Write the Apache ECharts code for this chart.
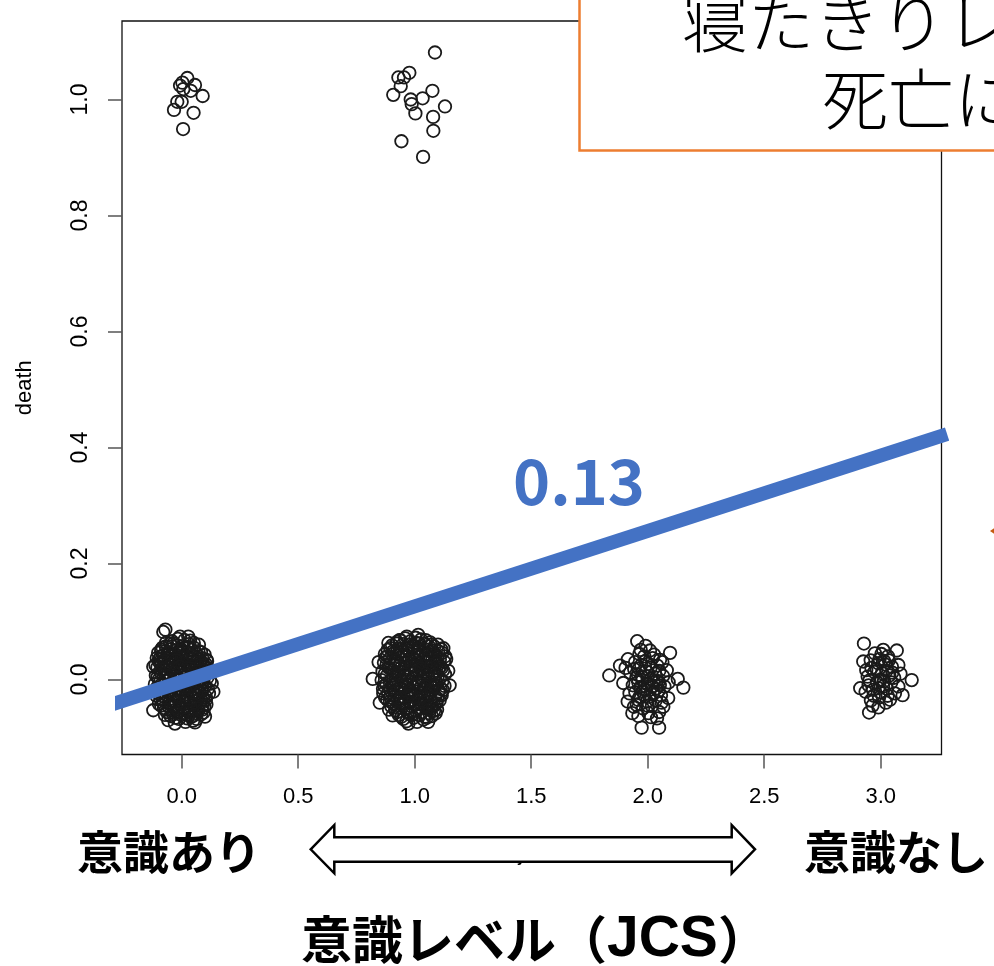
<!DOCTYPE html>
<html>
<head>
<meta charset="utf-8">
<script src="https://cdn.jsdelivr.net/npm/echarts@6/dist/echarts.min.js"></script>
<style>
html, body { margin: 0; padding: 0; background: #fff; }
#chart { width: 994px; height: 966px; }
</style>
</head>
<body>
<div id="chart"></div>
<script>
// Tick positions on both axes
const xTicks = [0, 0.5, 1, 1.5, 2, 2.5, 3];
const yTicks = [0, 0.2, 0.4, 0.6, 0.8, 1.0];

// Jittered observations [JCS, death], death = 1
const deadJcs0 = [
  [0.024,1.037],[0.003,1.029],[-0.007,1.024],[0.057,1.025],[0.007,1.018],[0.039,1.015],
  [0.090,1.006],[-0.019,0.996],[0.000,0.996],[-0.033,0.982],[0.051,0.977],[0.006,0.949]
];
const deadJcs1 = [
  [1.087,1.081],[0.977,1.046],[0.954,1.038],[0.930,1.038],[0.940,1.023],[0.908,1.008],
  [1.076,1.015],[0.983,1.000],[1.034,1.002],[0.987,0.992],[1.130,0.988],[1.003,0.976],
  [1.079,0.970],[1.080,0.946],[0.943,0.928],[1.036,0.901]
];

// Jittered observations [JCS, death], death = 0
const aliveJcs0 = [
  [-0.079,0.082],[-0.070,0.086],[-0.122,0.022],[-0.122,-0.053],[-0.029,-0.076],[0.057,-0.074],
  [0.100,-0.064],[0.136,-0.021],[0.129,-0.007],[0.107,0.034],[0.028,0.074],[-0.007,0.074],
  [-0.050,0.062],[-0.107,0.037],
  [-0.041,0.066],[0.012,0.068],[0.052,0.063],
  [-0.068,0.057],[-0.019,0.059],[0.027,0.056],[0.074,0.060],
  [-0.088,0.049],[-0.047,0.052],[0.004,0.048],[0.043,0.051],[0.083,0.047],
  [-0.079,0.042],[-0.028,0.044],[0.019,0.041],[0.061,0.045],[0.098,0.043],
  [-0.097,0.035],[-0.058,0.037],[-0.012,0.034],[0.033,0.038],[0.071,0.035],[0.109,0.032],
  [-0.086,0.028],[-0.036,0.030],[0.009,0.027],[0.048,0.031],[0.091,0.028],
  [-0.104,0.021],[-0.064,0.023],[-0.021,0.020],[0.024,0.024],[0.066,0.021],[0.112,0.019],
  [-0.093,0.014],[-0.046,0.016],[-0.003,0.013],[0.041,0.017],[0.082,0.014],[0.118,0.012],
  [-0.111,0.007],[-0.071,0.009],[-0.027,0.006],[0.016,0.010],[0.058,0.007],[0.101,0.008],
  [-0.098,0.000],[-0.053,0.002],[-0.009,-0.001],[0.034,0.003],[0.076,0.000],[0.121,-0.002],
  [-0.084,-0.007],[-0.039,-0.005],[0.007,-0.008],[0.051,-0.006],[0.094,-0.004],
  [-0.106,-0.014],[-0.062,-0.012],[-0.018,-0.015],[0.026,-0.011],[0.069,-0.013],[0.113,-0.016],
  [-0.089,-0.021],[-0.044,-0.019],[0.002,-0.022],[0.045,-0.018],[0.087,-0.020],
  [-0.109,-0.028],[-0.066,-0.026],[-0.023,-0.029],[0.021,-0.025],[0.063,-0.027],[0.104,-0.030],
  [-0.081,-0.035],[-0.035,-0.033],[0.011,-0.036],[0.054,-0.032],[0.092,-0.034],
  [-0.098,-0.042],[-0.054,-0.040],[-0.008,-0.043],[0.037,-0.039],[0.078,-0.041],
  [-0.076,-0.049],[-0.031,-0.047],[0.015,-0.050],[0.059,-0.046],[0.097,-0.048],
  [-0.064,-0.056],[-0.016,-0.054],[0.031,-0.057],[0.072,-0.053],
  [-0.048,-0.063],[-0.002,-0.061],[0.043,-0.064],[0.084,-0.060],
  [-0.058,-0.070],[-0.012,-0.068],[0.049,-0.071],
  [-0.062,0.044],[-0.005,0.052],[0.038,0.024],[-0.075,0.018],[0.073,0.011],[-0.033,0.001],
  [0.012,-0.031],[-0.049,-0.025],[0.029,-0.062],[0.085,-0.036],[-0.091,-0.033],[0.096,0.022],
  [-0.014,0.027],[0.057,0.039],[-0.058,-0.046],[0.063,-0.058],[0.020,0.006],[-0.036,0.062],
  [0.004,-0.049],[0.047,-0.009],[-0.096,0.030],[0.088,-0.052],[-0.025,0.050],[0.065,0.002],
  [-0.072,-0.061],[0.031,0.061],[-0.004,-0.024],[0.079,0.031],[-0.043,0.033],[0.016,-0.073],
  [-0.087,0.052],[0.106,-0.043],[0.001,0.040],[-0.067,-0.002],[0.054,-0.024],[-0.021,-0.057],
  [-0.066,0.064],[-0.016,0.070],[0.036,0.067],
  [-0.082,0.055],[-0.040,0.057],[0.008,0.058],[0.052,0.055],
  [-0.101,0.046],[-0.055,0.047],[-0.012,0.045],[0.030,0.046],[0.072,0.049],
  [-0.090,0.039],[-0.045,0.040],[0.000,0.037],[0.046,0.040],[0.088,0.037],
  [-0.076,0.031],[-0.025,0.033],[0.022,0.032],[0.062,0.029],[0.104,0.026],
  [-0.113,0.025],[-0.050,0.024],[-0.008,0.022],[0.036,0.019],[0.082,0.024],
  [-0.084,0.017],[-0.034,0.012],[0.014,0.016],[0.061,0.014],[0.100,0.016],
  [-0.104,0.004],[-0.060,0.006],[-0.016,0.004],[0.027,0.008],[0.069,0.005],[0.110,0.003],
  [-0.091,-0.003],[-0.046,-0.009],[0.000,-0.004],[0.042,-0.002],[0.085,-0.009],
  [-0.115,-0.008],[-0.073,-0.016],[-0.029,-0.012],[0.015,-0.017],[0.057,-0.015],[0.100,-0.012],
  [-0.099,-0.024],[-0.055,-0.022],[-0.010,-0.027],[0.034,-0.021],[0.076,-0.024],[0.117,-0.024],
  [-0.071,-0.031],[-0.026,-0.038],[0.022,-0.034],[0.066,-0.037],[0.104,-0.035],
  [-0.088,-0.045],[-0.043,-0.044],[0.006,-0.040],[0.048,-0.043],[0.089,-0.045],
  [-0.068,-0.052],[-0.022,-0.051],[0.025,-0.053],[0.068,-0.050],
  [-0.035,-0.060],[0.010,-0.058],[0.055,-0.061],[0.094,-0.057],
  [-0.027,-0.066],[0.024,-0.067],[0.064,-0.068]
];
const aliveJcs1 = [
  [0.820,0.001],[1.144,0.015],[1.123,0.054],[0.887,0.063],[0.973,-0.076],[1.058,-0.073],
  [1.116,-0.027],[0.865,-0.024],[0.966,0.074],[1.015,0.077],[0.845,0.030],[0.850,-0.040],
  [1.150,-0.010],[1.135,0.035],[0.905,-0.062],[1.090,-0.058],[0.935,0.068],[1.070,0.060],
  [0.938,0.068],[0.982,0.066],[1.027,0.069],[1.066,0.064],
  [0.903,0.059],[0.951,0.061],[0.996,0.058],[1.041,0.062],[1.084,0.057],
  [0.884,0.051],[0.927,0.053],[0.971,0.050],[1.015,0.054],[1.058,0.051],[1.101,0.049],
  [0.872,0.044],[0.912,0.046],[0.956,0.043],[1.001,0.047],[1.046,0.044],[1.089,0.042],[1.118,0.046],
  [0.893,0.036],[0.936,0.038],[0.979,0.035],[1.024,0.039],[1.067,0.036],[1.108,0.034],
  [0.868,0.029],[0.914,0.031],[0.958,0.028],[1.003,0.032],[1.047,0.029],[1.091,0.027],[1.126,0.031],
  [0.887,0.021],[0.931,0.023],[0.975,0.020],[1.019,0.024],[1.062,0.021],[1.104,0.019],
  [0.862,0.014],[0.906,0.016],[0.952,0.013],[0.997,0.017],[1.041,0.014],[1.085,0.012],[1.122,0.016],
  [0.881,0.007],[0.925,0.009],[0.969,0.006],[1.013,0.010],[1.056,0.007],[1.099,0.005],
  [0.858,-0.001],[0.902,0.001],[0.946,-0.002],[0.991,0.002],[1.035,-0.001],[1.078,0.001],[1.119,-0.003],
  [0.879,-0.008],[0.923,-0.006],[0.967,-0.009],[1.010,-0.005],[1.053,-0.008],[1.096,-0.006],
  [0.864,-0.016],[0.908,-0.014],[0.949,-0.017],[0.994,-0.013],[1.038,-0.016],[1.081,-0.014],[1.121,-0.018],
  [0.886,-0.023],[0.929,-0.021],[0.973,-0.024],[1.017,-0.020],[1.060,-0.023],[1.102,-0.021],
  [0.873,-0.031],[0.915,-0.029],[0.957,-0.032],[1.002,-0.028],[1.045,-0.031],[1.088,-0.029],
  [0.894,-0.038],[0.938,-0.036],[0.981,-0.039],[1.024,-0.035],[1.068,-0.038],[1.107,-0.036],
  [0.899,-0.046],[0.945,-0.044],[0.988,-0.047],[1.031,-0.043],[1.074,-0.046],
  [0.916,-0.053],[0.961,-0.051],[1.005,-0.054],[1.049,-0.050],[1.083,-0.054],
  [0.932,-0.061],[0.977,-0.059],[1.021,-0.062],[1.063,-0.058],
  [0.951,-0.068],[0.996,-0.066],[1.038,-0.069],
  [0.947,0.040],[1.032,0.025],[0.918,0.004],[1.071,-0.011],[0.993,-0.025],[0.962,0.055],
  [1.052,0.043],[0.896,-0.019],[1.110,0.023],[0.985,0.011],[1.025,-0.043],[0.940,-0.030],
  [1.007,0.063],[0.875,0.038],[1.094,-0.041],[0.969,-0.057],[1.058,0.003],[0.913,0.027],
  [1.017,-0.010],[0.954,0.017],[1.076,0.050],[0.930,-0.049],[1.044,-0.064],[0.988,0.039],
  [0.890,-0.052],[1.113,-0.024],[0.960,-0.004],[1.030,0.016],[0.924,0.062],[1.066,-0.051],
  [0.976,-0.018],[1.000,0.024],[1.087,0.033],[0.905,0.048],[1.039,-0.027],[0.948,-0.041],
  [0.960,0.071],[1.004,0.072],[1.047,0.068],
  [0.924,0.065],[0.973,0.060],[1.018,0.062],[1.062,0.057],[1.100,0.060],
  [0.895,0.054],[0.942,0.049],[0.988,0.053],[1.033,0.049],[1.077,0.046],[1.114,0.052],
  [0.883,0.040],[0.927,0.043],[0.967,0.039],[1.012,0.041],[1.056,0.037],[1.098,0.039],[1.131,0.040],
  [0.879,0.025],[0.921,0.033],[0.965,0.031],[1.009,0.028],[1.053,0.033],[1.097,0.030],
  [0.897,0.018],[0.941,0.020],[0.986,0.024],[1.029,0.019],[1.072,0.025],[1.115,0.020],
  [0.872,0.010],[0.914,0.011],[0.960,0.009],[1.004,0.013],[1.047,0.010],[1.090,0.008],[1.130,0.009],
  [0.892,-0.004],[0.935,0.004],[0.980,-0.004],[1.024,0.004],[1.067,-0.004],[1.108,0.002],
  [0.870,-0.011],[0.913,-0.010],[0.958,-0.013],[1.001,-0.009],[1.044,-0.012],[1.088,-0.010],[1.128,-0.011],
  [0.897,-0.027],[0.940,-0.018],[0.984,-0.020],[1.028,-0.024],[1.071,-0.019],[1.112,-0.016],
  [0.882,-0.035],[0.926,-0.033],[0.969,-0.028],[1.013,-0.032],[1.056,-0.027],[1.098,-0.033],
  [0.911,-0.042],[0.955,-0.040],[0.999,-0.043],[1.042,-0.039],[1.084,-0.045],
  [0.925,-0.056],[0.970,-0.048],[1.015,-0.050],[1.058,-0.046],[1.096,-0.052],
  [0.943,-0.064],[0.986,-0.061],[1.030,-0.057],[1.074,-0.063],
  [0.965,-0.072],[1.010,-0.073],[1.052,-0.066]
];
const aliveJcs2 = [
  [1.955,0.066],[1.991,0.058],[2.096,0.046],[1.964,0.044],[1.881,0.024],[1.835,0.007],
  [2.129,0.001],[2.153,-0.014],[1.895,-0.006],[1.914,-0.038],[1.934,-0.058],[1.974,-0.083],
  [2.049,-0.083],[2.014,-0.065],[2.067,-0.047],[2.088,-0.032],[2.082,0.016],[2.053,0.034],
  [1.985,0.040],[2.021,0.037],[1.946,0.030],[2.004,0.027],[2.041,0.024],[1.962,0.019],
  [1.925,0.012],[1.993,0.014],[2.031,0.010],[2.066,0.006],[1.951,0.003],[1.978,-0.001],
  [2.014,0.001],[2.047,-0.004],[1.936,-0.010],[1.969,-0.013],[2.001,-0.009],[2.036,-0.016],
  [2.072,-0.012],[1.947,-0.022],[1.985,-0.026],[2.022,-0.023],[2.057,-0.027],[1.958,-0.035],
  [1.997,-0.038],[2.034,-0.036],[1.941,-0.047],[1.980,-0.050],[2.018,-0.046],[2.049,-0.056],
  [1.960,-0.063],[2.040,-0.067],[1.905,0.020],[2.010,0.050],[2.063,0.030],[1.922,-0.024],
  [2.003,-0.058],[1.970,0.051],[2.090,-0.005],[1.990,-0.017],[2.027,0.043],[1.953,-0.044],
  [2.060,-0.040],[1.915,0.035],
  [1.972,0.025],[2.012,0.020],[2.050,0.015],[1.958,0.008],[1.998,0.005],[2.038,-0.002],
  [1.960,-0.005],[2.018,-0.012],[1.978,-0.020],[2.046,-0.020],[1.965,-0.030],[2.008,-0.030],
  [2.026,-0.005],[1.990,0.032],[2.052,-0.010],[1.942,0.018],[2.000,-0.045],[1.975,0.005]
];
const aliveJcs3 = [
  [2.928,0.062],[3.069,0.050],[3.011,0.051],[3.133,-0.001],[3.094,-0.027],[2.950,-0.057],
  [2.990,-0.048],[2.912,-0.015],[2.925,0.031],[3.076,0.025],[3.040,-0.035],[3.076,-0.012],
  [3.003,0.044],[3.031,0.040],[2.957,0.033],[2.989,0.028],[3.019,0.026],[3.048,0.022],
  [2.938,0.016],[2.972,0.013],[3.005,0.011],[3.037,0.007],[2.951,-0.002],[2.984,-0.005],
  [3.014,-0.003],[3.058,0.003],[2.935,-0.021],[2.967,-0.018],[3.000,-0.022],[3.027,-0.016],
  [3.061,-0.024],[2.958,-0.036],[2.993,-0.031],[3.022,-0.040],[2.975,0.045],[3.045,-0.005],
  [2.944,0.005],[3.010,-0.012],[2.982,0.018],[3.085,0.010],[2.965,-0.045],[3.035,0.033],
  [2.995,0.035],[3.025,0.015],[2.960,0.020],[2.990,-0.015],[3.030,-0.028],[2.970,-0.028],
  [3.050,0.012],[3.000,0.000],[2.948,-0.010],[3.015,0.032]
];

// Fitted line: death = intercept + slope * JCS
const slope = 0.13;
const intercept = -0.004;
const lineEnds = [-0.305, 3.285];

const LAT = '"Liberation Sans", Arial, sans-serif';
const CJK = '"Noto Sans CJK JP", "Noto Sans CJK SC", sans-serif';

const pointGroups = [deadJcs0, deadJcs1, aliveJcs0, aliveJcs1, aliveJcs2, aliveJcs3];

const chart = echarts.init(document.getElementById('chart'), null, { renderer: 'canvas' });

const fmt = v => Number(v).toFixed(1);

const option = {
  animation: false,
  backgroundColor: '#fff',
  grid: {
    left: 122, right: 52.5, top: 21, bottom: 211.5,
    show: true, borderColor: '#111', borderWidth: 1.3, backgroundColor: 'transparent'
  },
  xAxis: {
    type: 'value', min: -0.2562, max: 3.2609,
    name: 'jcs', nameLocation: 'middle', nameGap: 88,
    nameTextStyle: { fontFamily: LAT, fontSize: 22, color: '#000' },
    axisLine: { show: false, onZero: false },
    splitLine: { show: false },
    axisTick: { show: true, length: 14, customValues: xTicks, lineStyle: { color: '#555', width: 1.5 } },
    axisLabel: { customValues: xTicks, formatter: fmt, margin: 31, fontFamily: LAT, fontSize: 22, color: '#000' }
  },
  yAxis: {
    type: 'value', min: -0.1293, max: 1.1353,
    name: 'death', nameLocation: 'middle', nameGap: 86, nameRotate: 90,
    nameTextStyle: { fontFamily: LAT, fontSize: 22, color: '#000' },
    axisLine: { show: false, onZero: false },
    splitLine: { show: false },
    axisTick: { show: true, length: 14, customValues: yTicks, lineStyle: { color: '#555', width: 1.5 } },
    axisLabel: { customValues: yTicks, formatter: fmt, rotate: 90, margin: 30, fontFamily: LAT, fontSize: 23, color: '#000' }
  },
  series: [
    ...pointGroups.map(g => ({
      type: 'scatter',
      data: g,
      symbol: 'circle',
      symbolSize: 12.5,
      silent: true,
      z: 2,
      itemStyle: { color: 'rgba(255,255,255,0)', borderColor: '#1a1a1a', borderWidth: 1.8, opacity: 1 }
    })),
    {
      type: 'line',
      data: lineEnds.map(x => [x, intercept + slope * x]),
      symbol: 'none',
      clip: false,
      silent: true,
      z: 3,
      lineStyle: { color: '#4472C4', width: 14, cap: 'butt' }
    }
  ],
  graphic: {
    elements: [
      // call-out box at the top right
      {
        type: 'rect', z: 100,
        shape: { x: 579.5, y: -20, width: 460, height: 170.5 },
        style: { fill: '#fff', stroke: '#ED7D31', lineWidth: 2.5 }
      },
      {
        type: 'text', z: 101, x: 682, y: 22,
        style: { text: '寝たきりレベル', fontFamily: CJK, fontSize: 66, fontWeight: 300, fill: '#000',
                 align: 'left', verticalAlign: 'middle' }
      },
      {
        type: 'text', z: 101, x: 822, y: 99,
        style: { text: '死亡に', fontFamily: CJK, fontSize: 66, fontWeight: 300, fill: '#000',
                 align: 'left', verticalAlign: 'middle' }
      },
      // slope value
      {
        type: 'text', z: 101, x: 579, y: 481,
        style: { text: String(slope), fontFamily: CJK, fontSize: 63, fontWeight: 'bold', fill: '#4472C4',
                 align: 'center', verticalAlign: 'middle' }
      },
      // double-headed arrow under the x axis
      {
        type: 'polygon', z: 100,
        shape: { points: [
          [310.7, 849.3], [334.3, 825], [334.3, 837.3], [731.7, 837.3], [731.7, 825],
          [755, 849.3], [731.7, 873.3], [731.7, 861.7], [334.3, 861.7], [334.3, 873.3]
        ] },
        style: { fill: '#fff', stroke: '#000', lineWidth: 2.5, lineJoin: 'miter' }
      },
      {
        type: 'text', z: 101, x: 169, y: 852,
        style: { text: '意識あり', fontFamily: CJK, fontSize: 46, fontWeight: 'bold', fill: '#000',
                 align: 'center', verticalAlign: 'middle' }
      },
      {
        type: 'text', z: 101, x: 804, y: 852,
        style: { text: '意識なし', fontFamily: CJK, fontSize: 46, fontWeight: 'bold', fill: '#000',
                 align: 'left', verticalAlign: 'middle' }
      },
      {
        type: 'text', z: 101, x: 301, y: 940,
        style: {
          text: '{a|意識レベル（}{b|JCS}{a|）}',
          align: 'left', verticalAlign: 'middle',
          rich: {
            a: { fontFamily: CJK, fontSize: 51, fontWeight: 'bold', fill: '#000' },
            b: { fontFamily: LAT, fontSize: 57, fontWeight: 'bold', fill: '#000' }
          }
        }
      },
      // small arrow tip at the right edge
      {
        type: 'polygon', z: 100,
        shape: { points: [[990, 531], [997, 526], [997, 536]] },
        style: { fill: '#C55A11' }
      }
    ]
  }
};

chart.setOption(option);
</script>
</body>
</html>
